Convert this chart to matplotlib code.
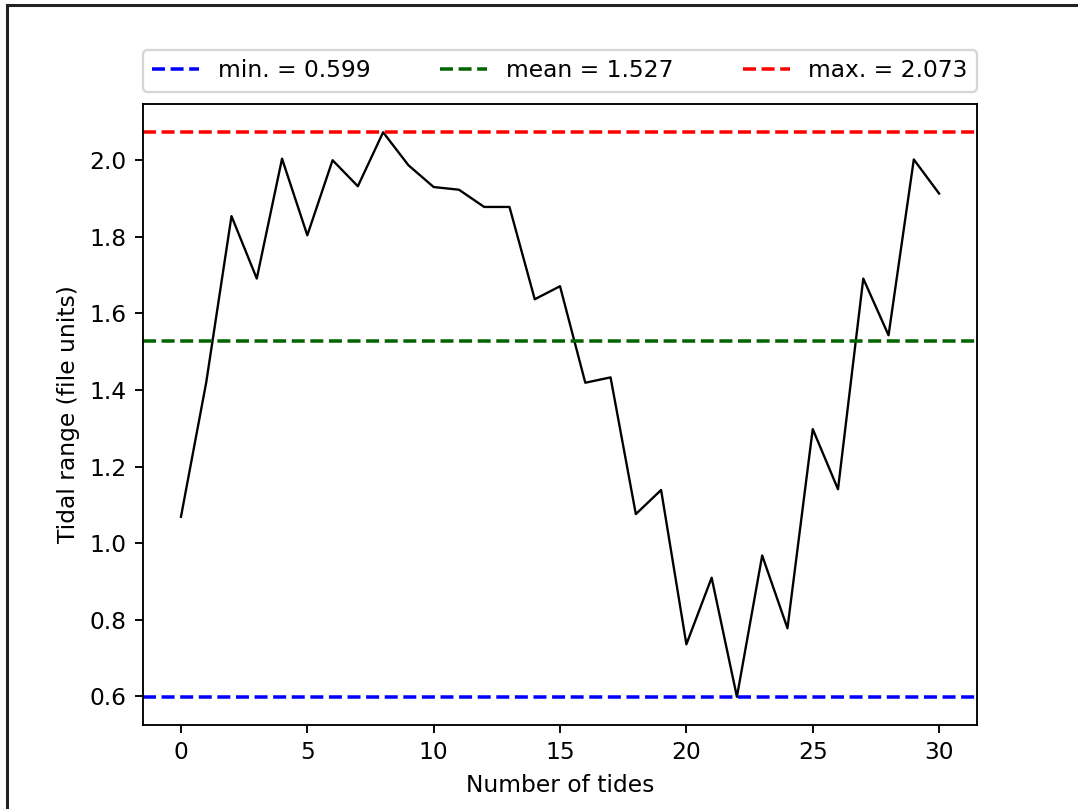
import numpy as np
import matplotlib
matplotlib.use("Agg")
import matplotlib.pyplot as plt
from matplotlib.lines import Line2D

# tidal range for each tide in the record
tide_number = list(range(31))
tidal_range = [
    1.069, 1.420, 1.854, 1.691, 2.004, 1.804, 2.000, 1.932, 2.073, 1.987,
    1.930, 1.923, 1.878, 1.878, 1.637, 1.671, 1.419, 1.433, 1.076, 1.139,
    0.736, 0.910, 0.599, 0.968, 0.778, 1.298, 1.141, 1.691, 1.543, 2.002,
    1.913,
]

range_min = 0.599
range_mean = 1.527
range_max = 2.073

dpi = 168.4
fig = plt.figure(figsize=(1078 / dpi, 809 / dpi), dpi=dpi)
ax = fig.add_axes([0.1327, 0.1038, 0.7736, 0.7676])

ax.plot(tide_number, tidal_range, color="black", lw=1)
ax.axhline(range_min, color="b", ls="--", lw=1.5, label=f"min. = {range_min:.3f}")
ax.axhline(range_mean, color="darkgreen", ls="--", lw=1.5, label=f"mean = {range_mean:.3f}")
ax.axhline(range_max, color="r", ls="--", lw=1.5, label=f"max. = {range_max:.3f}")

ax.set_xlabel("Number of tides")
ax.set_ylabel("Tidal range (file units)")
ax.set_xticks([0, 5, 10, 15, 20, 25, 30])
ax.set_yticks(np.arange(0.6, 2.01, 0.2))

ax.legend(bbox_to_anchor=(0., 1.02, 1., .102), loc=3, ncol=3,
          mode="expand", borderaxespad=0.)

# thin frame along the top and left edges
fig.add_artist(Line2D([7 / 1078, 7 / 1078], [0, 1 - 5 / 809],
                      transform=fig.transFigure, color="#222222", lw=1.3))
fig.add_artist(Line2D([7 / 1078, 1], [1 - 5 / 809, 1 - 5 / 809],
                      transform=fig.transFigure, color="#222222", lw=1.3))

fig.savefig("out.png", dpi=dpi)
